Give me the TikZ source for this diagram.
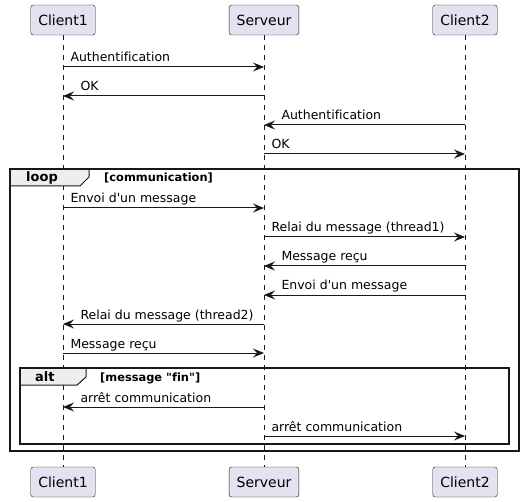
\documentclass[tikz,border=0pt]{standalone}
\usepackage{fontspec}
\newfontfamily\umlfont{DejaVu Sans}[Ligatures={NoCommon}]
\usetikzlibrary{arrows.meta}
\definecolor{partfill}{HTML}{E2E2F0}
\definecolor{umlline}{HTML}{181818}
\definecolor{tabfill}{HTML}{EEEEEE}

\tikzset{
    part/.style={draw=umlline, fill=partfill, rounded corners=2.5pt, inner xsep=7.5pt,
        minimum height=30pt, font=\umlfont\fontsize{14}{16}\selectfont},
    life/.style={draw=umlline, line width=0.5pt, dash pattern=on 5pt off 5pt},
    msg/.style={draw=umlline, line width=1pt, -{Stealth[length=11pt, width=9pt, inset=4pt]}},
    lbl/.style={anchor=base west, inner sep=0pt, font=\umlfont\fontsize{12.5}{15}\selectfont},
    frame/.style={draw=umlline, line width=1.5pt},
    tabbox/.style={draw=umlline, fill=tabfill, line width=1pt},
    kind/.style={anchor=base west, inner sep=0pt, font=\umlfont\bfseries\fontsize{13}{15}\selectfont},
    guard/.style={anchor=base west, inner sep=0pt, font=\umlfont\bfseries\fontsize{11.4}{13}\selectfont}
}

\begin{document}
\begin{tikzpicture}[x=1pt, y=-1pt]
    \useasboundingbox (0, 0) rectangle (524, 502);

    % participants
    \node[part] (c1top) at (63, 20) {Client1};
    \node[part] (srvtop) at (264, 20) {Serveur};
    \node[part] (c2top) at (465, 20) {Client2};
    \node[part] (c1bot) at (63, 482) {Client1};
    \node[part] (srvbot) at (264, 482) {Serveur};
    \node[part] (c2bot) at (465, 482) {Client2};

    \draw[life] (c1top) -- (c1bot);
    \draw[life] (srvtop) -- (srvbot);
    \draw[life] (c2top) -- (c2bot);

    % message rows
    \foreach \y [count=\i] in {67, 96, 125, 154, 208, 237, 266, 295, 324, 353, 407, 436} {
        \coordinate (c1-\i) at (63, \y);
        \coordinate (srv-\i) at (264, \y);
        \coordinate (c2-\i) at (465, \y);
    }

    % loop frame
    \draw[tabbox] (10, 169) -- (89, 169) -- (89, 177) -- (80, 186) -- (10, 186) -- cycle;
    \draw[frame] (10, 169) rectangle (519, 451);
    \node[kind] (loopkind) at (26, 182) {loop};
    \node[guard] (loopguard) at (104, 182) {[communication]};

    % alt frame
    \draw[tabbox] (20, 368) -- (86, 368) -- (86, 377) -- (77, 385) -- (20, 385) -- cycle;
    \draw[frame] (20, 368) rectangle (509, 444);
    \node[kind] (altkind) at (35, 381) {alt};
    \node[guard] (altguard) at (100, 381) {[message "fin"]};

    \draw[msg] (c1-1) -- (srv-1) node[lbl, at start, xshift=7pt, yshift=5pt] {Authentification};
    \draw[msg] (srv-2) -- (c1-2) node[lbl, at end, xshift=17pt, yshift=5pt] {OK};
    \draw[msg] (c2-3) -- (srv-3) node[lbl, at end, xshift=17pt, yshift=5pt] {Authentification};
    \draw[msg] (srv-4) -- (c2-4) node[lbl, at start, xshift=7pt, yshift=5pt] {OK};
    \draw[msg] (c1-5) -- (srv-5) node[lbl, at start, xshift=7pt, yshift=5pt] {Envoi d'un message};
    \draw[msg] (srv-6) -- (c2-6) node[lbl, at start, xshift=7pt, yshift=5pt] {Relai du message (thread1)};
    \draw[msg] (c2-7) -- (srv-7) node[lbl, at end, xshift=17pt, yshift=5pt] {Message reçu};
    \draw[msg] (c2-8) -- (srv-8) node[lbl, at end, xshift=17pt, yshift=5pt] {Envoi d'un message};
    \draw[msg] (srv-9) -- (c1-9) node[lbl, at end, xshift=17pt, yshift=5pt] {Relai du message (thread2)};
    \draw[msg] (c1-10) -- (srv-10) node[lbl, at start, xshift=7pt, yshift=5pt] {Message reçu};
    \draw[msg] (srv-11) -- (c1-11) node[lbl, at end, xshift=17pt, yshift=5pt] {arrêt communication};
    \draw[msg] (srv-12) -- (c2-12) node[lbl, at start, xshift=7pt, yshift=5pt] {arrêt communication};
\end{tikzpicture}
\end{document}
